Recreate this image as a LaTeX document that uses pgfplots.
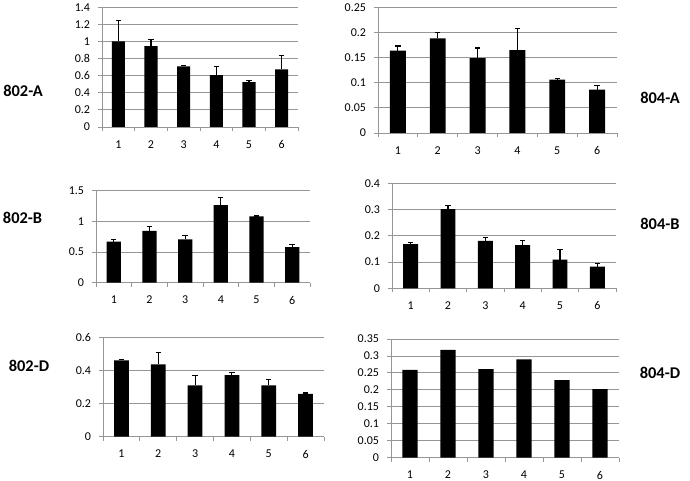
\documentclass[border=0pt]{standalone}
\usepackage{pgfplots}
\pgfplotsset{compat=1.18}
\usepackage{fontspec}
\setmainfont{Carlito}
\definecolor{gridgray}{RGB}{150,150,150}
\pgfplotsset{
  panel/.style={
    scale only axis,
    anchor=south west,
    axis x line*=bottom,
    axis y line*=left,
    axis line style={gridgray, line width=0.6pt},
    xmin=0.5, xmax=6.5,
    xtick={1,2,3,4,5,6},
    major x tick style={draw=none},
    minor xtick={0.5,1.5,2.5,3.5,4.5,5.5,6.5},
    minor x tick style={gridgray, line width=0.6pt},
    minor tick length=3pt,
    major tick length=3pt,
    y tick style={gridgray, line width=0.6pt},
    tick align=outside,
    ymin=0,
    ymajorgrids,
    grid style={gridgray, line width=0.6pt},
    scaled y ticks=false,
    tick label style={font=\fontsize{9}{10}\selectfont},
    xticklabel style={yshift=-3.5pt},
    yticklabel style={xshift=-2.5pt},
    /pgf/number format/.cd, fixed, precision=2, assume math mode=true,
    /pgfplots/.cd,
    ybar, bar width=0.4, bar shift=0pt,
    clip=false,
  },
  barp/.style={fill=black, draw=none,
    error bars/.cd, y dir=plus, y explicit,
    error bar style={black, line width=0.8pt},
    error mark options={black, line width=0.8pt, mark size=2pt, rotate=90}},
}
\tikzset{lab/.style={font=\bfseries\fontsize{12.3}{14}\selectfont}}
\begin{document}
\begin{tikzpicture}
\path[use as bounding box] (0,0) rectangle (517.5pt,360.75pt);

% 802-A
\begin{axis}[panel, at={(76.5pt,265.5pt)}, width=147pt, height=89.8pt,
  ymax=1.4, ytick={0,0.2,0.4,0.6,0.8,1,1.2,1.4}]
\addplot[barp] coordinates {(1,1.0) +- (0,0.24) (2,0.945) +- (0,0.08) (3,0.708) +- (0,0.012) (4,0.605) +- (0,0.10) (5,0.525) +- (0,0.015) (6,0.675) +- (0,0.165)};
\end{axis}

% 804-A
\begin{axis}[panel, at={(283.5pt,261pt)}, width=179.25pt, height=94.3pt,
  ymax=0.25, ytick={0,0.05,0.1,0.15,0.2,0.25}]
\addplot[barp] coordinates {(1,0.164) +- (0,0.009) (2,0.188) +- (0,0.012) (3,0.149) +- (0,0.02) (4,0.165) +- (0,0.043) (5,0.106) +- (0,0.0015) (6,0.086) +- (0,0.008)};
\end{axis}

% 802-B
\begin{axis}[panel, at={(72pt,148.7pt)}, width=160.5pt, height=69pt,
  ymax=1.5, ytick={0,0.5,1,1.5}]
\addplot[barp] coordinates {(1,0.67) +- (0,0.035) (2,0.845) +- (0,0.07) (3,0.705) +- (0,0.065) (4,1.265) +- (0,0.12) (5,1.08) +- (0,0.008) (6,0.58) +- (0,0.05)};
\end{axis}

% 804-B
\begin{axis}[panel, at={(294pt,144.5pt)}, width=168pt, height=78.75pt,
  ymax=0.4, ytick={0,0.1,0.2,0.3,0.4}]
\addplot[barp] coordinates {(1,0.168) +- (0,0.005) (2,0.302) +- (0,0.012) (3,0.181) +- (0,0.012) (4,0.165) +- (0,0.018) (5,0.109) +- (0,0.038) (6,0.083) +- (0,0.011)};
\end{axis}

% 802-D
\begin{axis}[panel, at={(77.25pt,33.2pt)}, width=165.75pt, height=74.25pt,
  ymax=0.6, ytick={0,0.2,0.4,0.6}]
\addplot[barp] coordinates {(1,0.463) +- (0,0.006) (2,0.438) +- (0,0.073) (3,0.311) +- (0,0.061) (4,0.374) +- (0,0.016) (5,0.311) +- (0,0.038) (6,0.259) +- (0,0.006)};
\end{axis}

% 804-D
\begin{axis}[panel, at={(293.25pt,17.5pt)}, width=171pt, height=89pt,
  ymax=0.35, ytick={0,0.05,0.1,0.15,0.2,0.25,0.3,0.35}]
\addplot[fill=black, draw=none] coordinates {(1,0.259) (2,0.318) (3,0.261) (4,0.29) (5,0.229) (6,0.202)};
\end{axis}

\node[lab] at (17.25pt,292.3pt) {802-A};
\node[lab] at (495pt,287.6pt) {804-A};
\node[lab] at (16.9pt,197.6pt) {802-B};
\node[lab] at (495pt,192.75pt) {804-B};
\node[lab] at (21.75pt,86.25pt) {802-D};
\node[lab] at (495pt,81.4pt) {804-D};
\end{tikzpicture}
\end{document}
